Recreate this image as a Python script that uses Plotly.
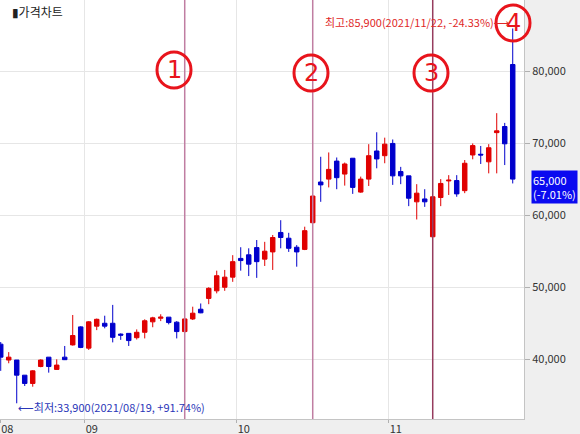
import plotly.graph_objects as go

# ---------------- data ----------------
dates = [
    "2021-08-17", "2021-08-18", "2021-08-19", "2021-08-20", "2021-08-23", "2021-08-24",
    "2021-08-25", "2021-08-26", "2021-08-27", "2021-08-30", "2021-08-31",
    "2021-09-01", "2021-09-02", "2021-09-03", "2021-09-06", "2021-09-07", "2021-09-08",
    "2021-09-09", "2021-09-10", "2021-09-13", "2021-09-14", "2021-09-15", "2021-09-16",
    "2021-09-17", "2021-09-23", "2021-09-24", "2021-09-27", "2021-09-28", "2021-09-29",
    "2021-09-30",
    "2021-10-01", "2021-10-05", "2021-10-06", "2021-10-07", "2021-10-08", "2021-10-12",
    "2021-10-13", "2021-10-14", "2021-10-15", "2021-10-18", "2021-10-19", "2021-10-20",
    "2021-10-21", "2021-10-22", "2021-10-25", "2021-10-26", "2021-10-27", "2021-10-28",
    "2021-10-29",
    "2021-11-01", "2021-11-02", "2021-11-03", "2021-11-04", "2021-11-05", "2021-11-08",
    "2021-11-09", "2021-11-10", "2021-11-11", "2021-11-12", "2021-11-15", "2021-11-16",
    "2021-11-17", "2021-11-18", "2021-11-19", "2021-11-22",
]
opens = [
    42100, 39900, 39900, 37800, 36650, 39000, 40300, 38600, 40300, 42000, 44500,
    41550, 44600, 45000, 45000, 43500, 43600, 43000, 43750, 45200, 45700, 45850, 45150,
    43850, 45600, 46950, 48450, 49500, 50000, 51400,
    54000, 54500, 55500, 53900, 54900, 57600, 56800, 55550, 55250, 58950, 64600, 65000,
    67500, 65700, 67900, 63200, 65000, 68900, 68250,
    69950, 66050, 65450, 61850, 62250, 57000, 62450, 64750, 64800, 63400, 68350, 68450,
    67400, 71450, 72300, 80900,
]
highs = [
    42400, 41000, 39900, 37800, 38500, 40000, 40300, 40000, 41850, 46150, 44600,
    45300, 45650, 46050, 47550, 43600, 43600, 44150, 45550, 45900, 46250, 45850, 45300,
    45750, 47300, 47750, 50000, 52300, 52400, 54450,
    55550, 55400, 56550, 56300, 57250, 59300, 57550, 55850, 58400, 62800, 68100, 68700,
    68000, 67300, 67900, 65350, 69850, 71500, 70750,
    70500, 66700, 65450, 64300, 63600, 62550, 65000, 65550, 65550, 67650, 69950, 69600,
    69850, 74150, 72800, 85900,
]
lows = [
    38400, 39450, 33900, 36300, 36200, 38900, 38150, 38550, 39900, 41900, 41550,
    41300, 44050, 44300, 42350, 42700, 41850, 42750, 42900, 44450, 45300, 44850, 42900,
    43650, 45450, 46400, 47650, 49150, 49500, 50750,
    52300, 51550, 51300, 52950, 52400, 55400, 54900, 52850, 55150, 58850, 61850, 63850,
    63600, 64100, 62950, 63100, 64050, 66500, 67200,
    64200, 64300, 61250, 59400, 61150, 57000, 61250, 62800, 62550, 63050, 67750, 67100,
    65800, 65800, 66950, 64400,
]
closes = [
    40300, 40300, 37800, 36650, 38400, 39900, 39000, 39200, 39950, 43300, 41650,
    45200, 45550, 44600, 43050, 43350, 42600, 43750, 45350, 45750, 45850, 45100, 43850,
    45600, 46400, 46450, 49850, 51600, 51400, 53550,
    53700, 53200, 53550, 55000, 56900, 56900, 55400, 54900, 57850, 62650, 64200, 66350,
    65200, 67100, 63850, 65000, 68250, 67800, 69850,
    65450, 65450, 62350, 63050, 61850, 62550, 64400, 64850, 62950, 67200, 69650, 68350,
    69350, 71700, 69900, 65000,
]

month_labels = ["08", "09", "10", "11"]
month_first_days = ["2021-09-01", "2021-10-01", "2021-11-01"]

price_ticks = [40000, 50000, 60000, 70000, 80000]
price_tick_labels = ["40,000", "50,000", "60,000", "70,000", "80,000"]

event_days = ["2021-09-17", "2021-10-18", "2021-11-08"]
event_colors = ["#c07ea2", "#c07ea2", "#963c5e"]
event_marks = ["1", "2", "3", "4"]

title_text = "▮가격차트"
high_text = "최고:85,900(2021/11/22, -24.33%)⟶"
low_text = "⟵최저:33,900(2021/08/19, +91.74%)"
last_text = "65,000<br>(-7.01%)"

# ---------------- layout geometry ----------------
W, H = 580, 434
ML, MR, MT, MB = 0, 56, 0, 15
PW, PH = W - ML - MR, H - MT - MB

pos = list(range(len(dates)))
x_range = [-0.09, 65.41]
y_range = [31720, 89850]

RED = "#e00000"
BLUE = "#0000cc"
FONT = "Noto Sans CJK KR, Noto Sans, DejaVu Sans, sans-serif"

fig = go.Figure()
fig.add_trace(go.Candlestick(
    x=pos, open=opens, high=highs, low=lows, close=closes,
    increasing=dict(line=dict(color=RED, width=1), fillcolor=RED),
    decreasing=dict(line=dict(color=BLUE, width=1), fillcolor=BLUE),
    whiskerwidth=0,
    text=dates, hoverinfo="text+y",
    showlegend=False,
))

tickvals = [x_range[0] + 0.02] + [dates.index(d) - 0.5 for d in month_first_days]

shapes = []
for d, c in zip(event_days, event_colors):
    i = dates.index(d)
    shapes.append(dict(type="line", xref="x", yref="paper", x0=i, x1=i, y0=0, y1=1,
                       line=dict(color=c, width=1.5), layer="above"))


def px2paper(px, py):
    return px / PW, 1 - py / PH


# hand-drawn circled numbers (pixel centres in the plot area)
circle_centres = [(174, 70), (311, 73), (431, 73), (513, 23)]
annotations = []
for (cx, cy), mark in zip(circle_centres, event_marks):
    x0, y0 = px2paper(cx - 17, cy - 18)
    x1, y1 = px2paper(cx + 17, cy + 18)
    shapes.append(dict(type="circle", xref="paper", yref="paper", x0=x0, x1=x1,
                       y0=y1, y1=y0, line=dict(color="#e8141c", width=3), layer="above"))
    ax, ay = px2paper(cx, cy)
    annotations.append(dict(xref="paper", yref="paper", x=ax, y=ay, text=mark,
                            showarrow=False, xanchor="center", yanchor="middle",
                            font=dict(family="DejaVu Sans", size=24, color="#e8141c")))

annotations.append(dict(xref="paper", yref="paper", x=10 / PW, y=1, yshift=-1,
                        text=title_text, showarrow=False, xanchor="left", yanchor="top",
                        font=dict(family=FONT, size=12, color="#222222")))

hi_i = highs.index(max(highs))
lo_i = lows.index(min(lows))
annotations.append(dict(xref="x", yref="y", x=hi_i, y=max(highs), xshift=-1, yshift=6,
                        text=high_text, showarrow=False, xanchor="right", yanchor="middle",
                        font=dict(family=FONT, size=11, color="#e02828")))
annotations.append(dict(xref="x", yref="y", x=lo_i, y=min(lows), xshift=-1, yshift=-4,
                        text=low_text, showarrow=False, xanchor="left", yanchor="middle",
                        font=dict(family=FONT, size=11, color="#2a36b8")))
annotations.append(dict(xref="paper", yref="y", x=1, xshift=7, y=closes[-1], yshift=9,
                        text=last_text, showarrow=False, xanchor="left", yanchor="top",
                        align="left", bgcolor="#0a0af0", borderpad=1,
                        font=dict(family=FONT, size=11, color="#ffffff")))

fig.update_layout(
    width=W, height=H,
    margin=dict(l=ML, r=MR, t=MT, b=MB, autoexpand=False),
    paper_bgcolor="#efefef",
    plot_bgcolor="#ffffff",
    boxgap=0.2,
    showlegend=False,
    hovermode=False,
    shapes=shapes,
    annotations=annotations,
    xaxis=dict(
        range=x_range, rangeslider=dict(visible=False),
        tickmode="array", tickvals=tickvals, ticktext=month_labels,
        ticklabelposition="outside right",
        showgrid=True, gridcolor="#e6e6e6", gridwidth=1,
        ticks="outside", ticklen=3, tickcolor="#b0b0b0",
        showline=True, linecolor="#c4c4c4", linewidth=1,
        tickfont=dict(family=FONT, size=11, color="#333333"),
        zeroline=False,
    ),
    yaxis=dict(
        range=y_range, side="right",
        tickmode="array", tickvals=price_ticks, ticktext=price_tick_labels,
        showgrid=True, gridcolor="#e6e6e6", gridwidth=1,
        ticks="outside", ticklen=5, tickcolor="#b0b0b0",
        showline=True, linecolor="#c4c4c4", linewidth=1,
        tickfont=dict(family=FONT, size=11, color="#333333"),
        zeroline=False,
    ),
)

fig.write_html("out.html", config={"displayModeBar": False},
               post_script="document.body.style.margin='0';")
